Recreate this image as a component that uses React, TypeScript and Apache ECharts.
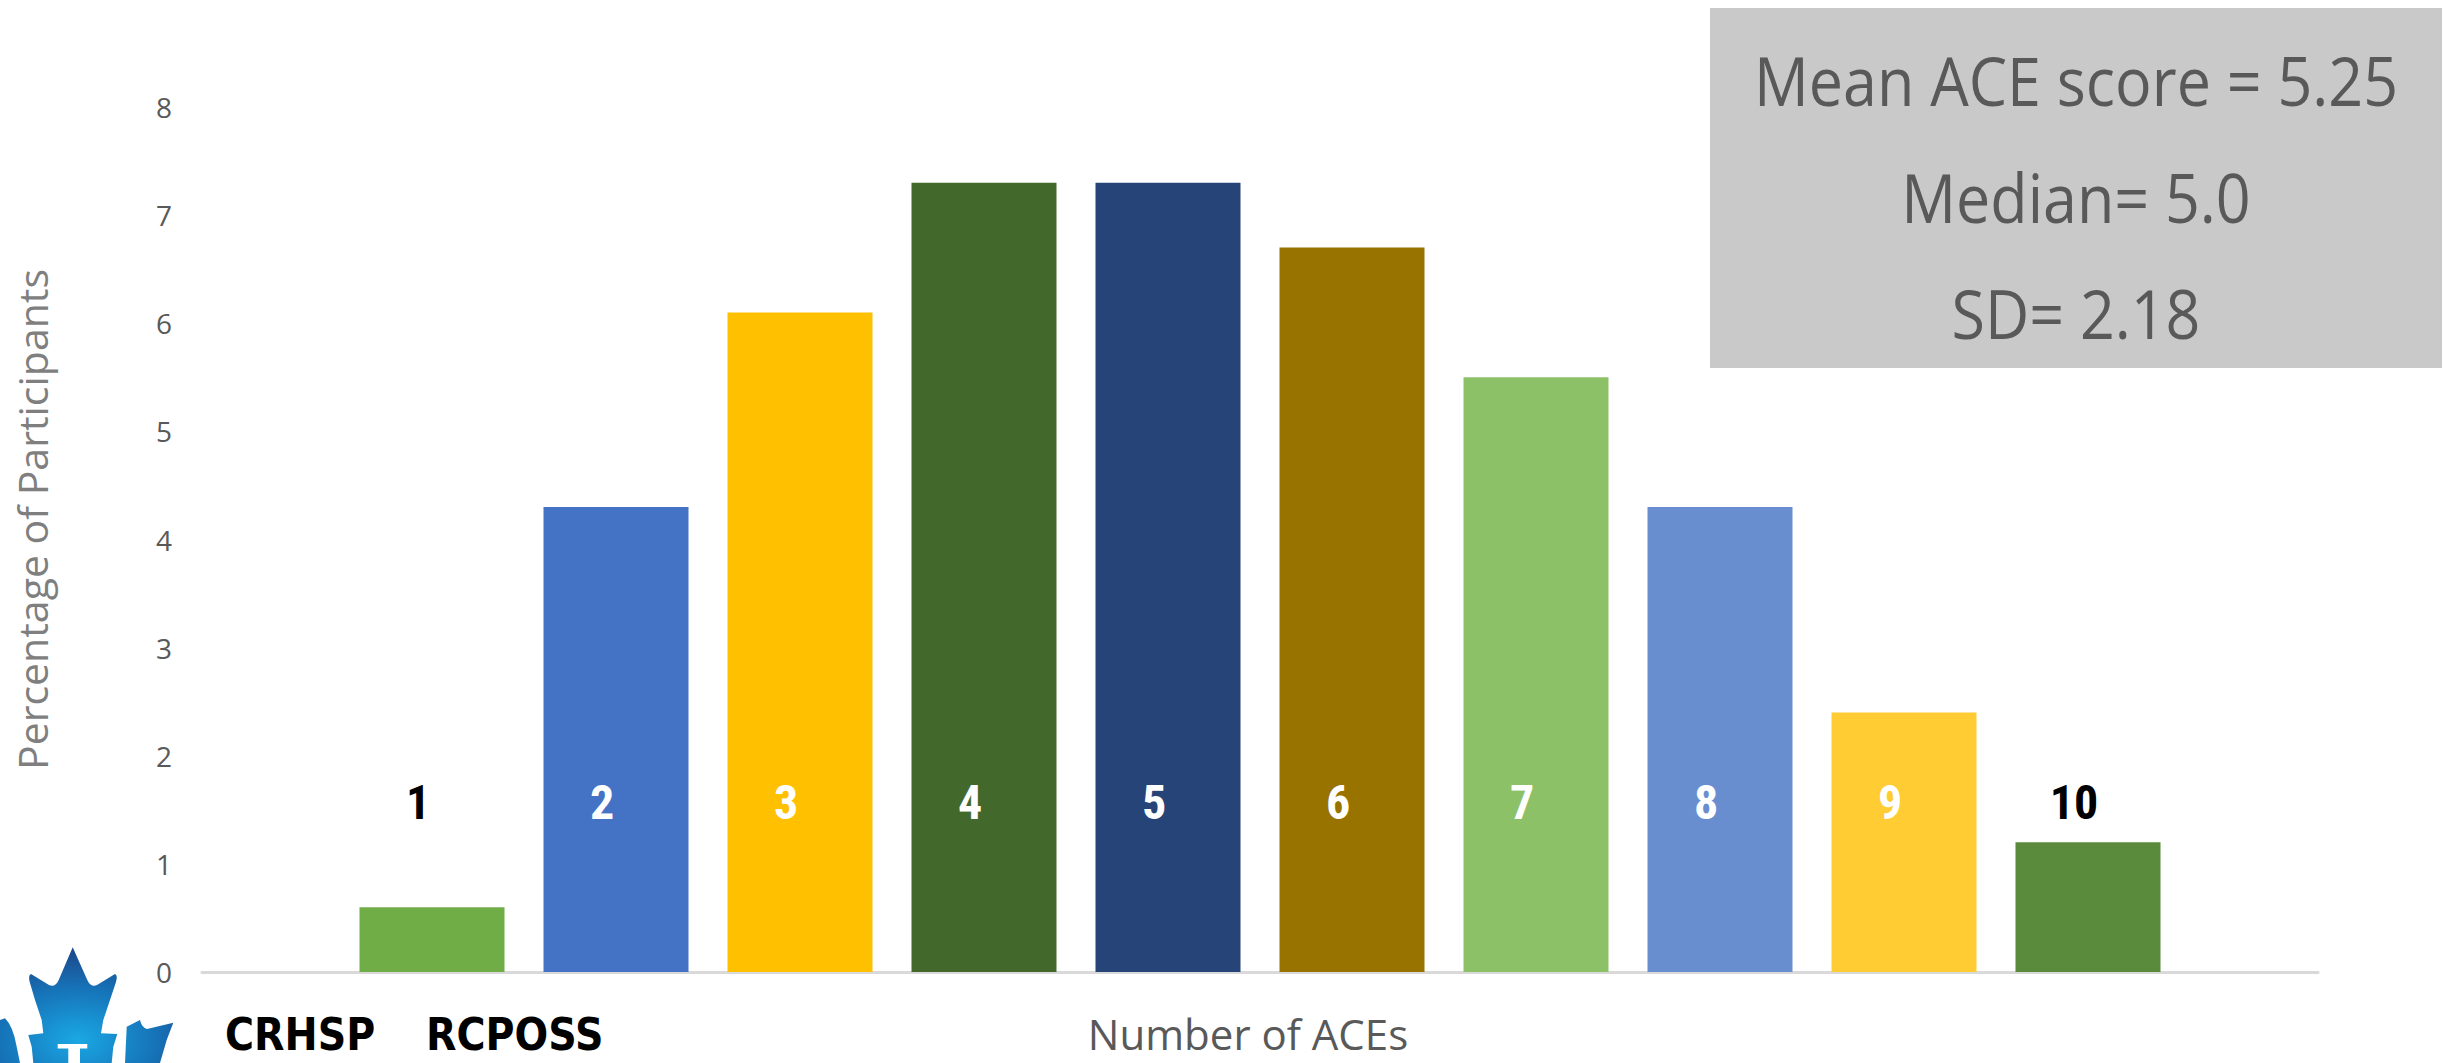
import React, { useEffect, useRef } from "react";
import * as echarts from "echarts";

// ---- data ----
const aceCounts = [1, 2, 3, 4, 5, 6, 7, 8, 9, 10];
const percentages = [0.6, 4.3, 6.1, 7.3, 7.3, 6.7, 5.5, 4.3, 2.4, 1.2];
const barColors = [
  "#70AD47", "#4472C4", "#FFC000", "#43682B", "#264478",
  "#997300", "#8CC168", "#698ED0", "#FFCD33", "#5A8A3B",
];
const labelColors = [
  "#000000", "#FFFFFF", "#FFFFFF", "#FFFFFF", "#FFFFFF",
  "#FFFFFF", "#FFFFFF", "#FFFFFF", "#FFFFFF", "#000000",
];
const statLines = ["Mean ACE score = 5.25", "Median= 5.0", "SD= 2.18"];
const xTitle = "Number of ACEs";
const yTitle = "Percentage of Participants";
const logoWords = ["CRHSP", "RCPOSS"];

const LOGO_D =
  "M72.7 947.3 L87.3 980 Q91 988 97 985 L115 974 Q118 975 116 982 L110 1000 L103.3 1020 L101 1033.3 L117.3 1034 L113.3 1046.7 L111.7 1063 L33.3 1063 L31.7 1046.7 L28.3 1035 L43.3 1033.3 L41.7 1020 L35 1000 L29.7 982 Q28 975 31 974 L49 985 Q55 988 58.7 980 Z " +
  "M0 1020 L5 1018.3 Q13 1026 16.7 1046.7 L20 1063 L0 1063 Z " +
  "M126.7 1026.7 L140 1020 Q142 1028 147 1029 L173.3 1022.7 L166.7 1040 L160 1063 L125 1063 Z";

echarts.graphic.registerShape("logo", echarts.graphic.extendPath(LOGO_D, {}));

export default function App() {
  const ref = useRef<HTMLDivElement>(null);

  useEffect(() => {
    if (!ref.current) return;
    const chart = echarts.init(ref.current, undefined, { renderer: "svg" });

    const statY = [80, 197, 313];

    const option: any = {
      animation: false,
      backgroundColor: "#FFFFFF",
      grid: { left: 202, right: 135, top: 107, bottom: 91, containLabel: false },
      xAxis: {
        type: "value",
        min: -0.25,
        max: 11.25,
        axisLine: { show: true, lineStyle: { color: "#D9D9D9", width: 3 } },
        axisTick: { show: false },
        axisLabel: { show: false },
        splitLine: { show: false },
        name: xTitle,
        nameLocation: "middle",
        nameGap: 40,
        nameTextStyle: {
          fontFamily: "Open Sans",
          fontSize: 42,
          lineHeight: 42,
          color: "#595959",
          padding: [0, 24, 0, 0],
        },
      },
      yAxis: {
        type: "value",
        min: 0,
        max: 8,
        interval: 1,
        axisLine: { show: false },
        axisTick: { show: false },
        splitLine: { show: false },
        axisLabel: { fontFamily: "Open Sans", fontSize: 28, color: "#595959", margin: 30 },
        name: yTitle,
        nameLocation: "middle",
        nameRotate: 90,
        nameGap: 150,
        nameTextStyle: {
          fontFamily: "Open Sans",
          fontSize: 41,
          color: "#7F7F7F",
          padding: [0, 0, 0, 40],
        },
      },
      series: [
        {
          type: "bar",
          barWidth: 145,
          data: aceCounts.map((c, i) => ({
            value: [c, percentages[i]],
            itemStyle: { color: barColors[i] },
            label: { color: labelColors[i] },
          })),
          label: {
            show: true,
            position: "insideBottom",
            distance: 170,
            offset: [-14, 0],
            align: "center",
            verticalAlign: "middle",
            formatter: (p: any) => String(p.value[0]),
            fontFamily: "'Liberation Sans Narrow', 'Roboto Condensed', Roboto, sans-serif",
            fontWeight: "bold",
            fontSize: 48,
          },
        },
      ],
      graphic: [
        {
          type: "rect",
          shape: { x: 1710, y: 8, width: 732, height: 360 },
          style: { fill: "#C9C9C9" },
          z: 10,
        },
        ...statLines.map((t, i) => ({
          type: "text",
          x: 2076,
          y: statY[i],
          scaleX: 0.91,
          z: 11,
          style: {
            text: t,
            fontFamily: "Open Sans",
            fontSize: 67,
            fill: "#595959",
            align: "center",
            verticalAlign: "middle",
          },
        })),
        {
          type: "logo",
          x: 0,
          y: 0,
          z: 10,
          style: {
            fill: new echarts.graphic.RadialGradient(0.45, 0.8, 0.75, [
              { offset: 0, color: "#1AA8E4" },
              { offset: 0.6, color: "#1673B8" },
              { offset: 1, color: "#1D4B8E" },
            ]),
          },
        },
        {
          type: "rect",
          shape: { x: 57.7, y: 1044, width: 29.6, height: 4.5 },
          style: { fill: "#FFFFFF" },
          z: 11,
        },
        {
          type: "rect",
          shape: { x: 68.3, y: 1048, width: 11.7, height: 15 },
          style: { fill: "#FFFFFF" },
          z: 11,
        },
        {
          type: "text",
          x: 225,
          y: 1035,
          scaleX: 0.9,
          z: 11,
          style: {
            text: logoWords[0],
            fontFamily: "DejaVu Sans",
            fontWeight: "bold",
            fontSize: 44,
            lineHeight: 40,
            fill: "#000000",
            align: "left",
            verticalAlign: "middle",
          },
        },
        {
          type: "text",
          x: 426,
          y: 1035,
          scaleX: 0.9,
          z: 11,
          style: {
            text: logoWords[1],
            fontFamily: "DejaVu Sans",
            fontWeight: "bold",
            fontSize: 44,
            lineHeight: 40,
            fill: "#000000",
            align: "left",
            verticalAlign: "middle",
          },
        },
      ],
    };

    chart.setOption(option);
    return () => chart.dispose();
  }, []);

  return (
    <div
      ref={ref}
      style={{ position: "fixed", left: 0, top: 0, width: 2453, height: 1063, background: "#FFFFFF" }}
    />
  );
}
